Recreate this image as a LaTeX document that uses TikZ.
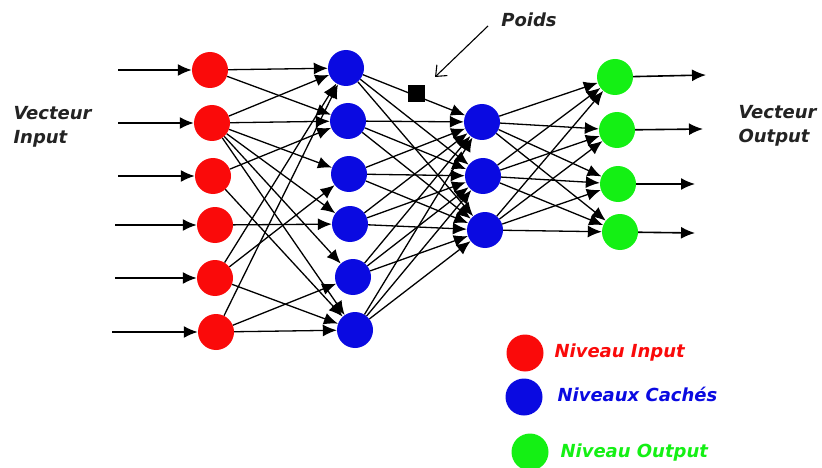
\documentclass[tikz,border=0pt]{standalone}
\usepackage{fontspec}
\setmainfont{DejaVu Sans}[BoldFont={DejaVu Sans Bold},
  ItalicFont={DejaVu Sans Oblique},BoldItalicFont={DejaVu Sans Bold Oblique}]
\usetikzlibrary{arrows.meta}
\definecolor{inred}{RGB}{250,10,10}
\definecolor{hidblue}{RGB}{10,10,225}
\definecolor{outgreen}{RGB}{20,240,20}
\definecolor{textgray}{RGB}{35,35,35}

\begin{document}
\begin{tikzpicture}[x=1pt,y=-1pt,
    neuron/.style={circle, fill=#1, minimum size=36pt, inner sep=0pt},
    link/.style={line width=1.3pt, -{Latex[length=14pt,width=12pt]}},
    lbl/.style={font=\bfseries\itshape\fontsize{18}{24}\selectfont, align=left, text=textgray},
    key/.style={font=\bfseries\itshape\fontsize{18}{20}\selectfont, text=#1, anchor=west}]
    \useasboundingbox (0,0) rectangle (822,468);

    % input layer
    \node[neuron=inred](i1) at (210,70){};
    \node[neuron=inred](i2) at (212,123){};
    \node[neuron=inred](i3) at (213,176){};
    \node[neuron=inred](i4) at (215,225){};
    \node[neuron=inred](i5) at (215,278){};
    \node[neuron=inred](i6) at (216,332){};
    % first hidden layer
    \node[neuron=hidblue](h1) at (346,68){};
    \node[neuron=hidblue](h2) at (348,121){};
    \node[neuron=hidblue](h3) at (349,174){};
    \node[neuron=hidblue](h4) at (350,224){};
    \node[neuron=hidblue](h5) at (353,277){};
    \node[neuron=hidblue](h6) at (355,330){};
    % second hidden layer
    \node[neuron=hidblue](g1) at (482,122){};
    \node[neuron=hidblue](g2) at (483,176){};
    \node[neuron=hidblue](g3) at (485,230){};
    % output layer
    \node[neuron=outgreen](o1) at (615,77){};
    \node[neuron=outgreen](o2) at (617,130){};
    \node[neuron=outgreen](o3) at (618,184){};
    \node[neuron=outgreen](o4) at (620,232){};

    % free ends of the input and output arrows
    \coordinate (x1) at (118,70);  \coordinate (y1) at (706,75);
    \coordinate (x2) at (118,123); \coordinate (y2) at (703,129);
    \coordinate (x3) at (118,176); \coordinate (y3) at (695,184);
    \coordinate (x4) at (115,225); \coordinate (y4) at (695,233);
    \coordinate (x5) at (115,278);
    \coordinate (x6) at (112,332);

    \foreach \k in {1,...,6} \draw[link, line width=1.6pt] (x\k) -- (i\k);
    \foreach \k in {1,...,4} \draw[link, line width=1.6pt] (o\k) -- (y\k);

    % input -> hidden, only some pairs are linked
    \foreach \a/\b in {1/1,1/2, 2/1,2/2,2/3,2/4,2/5,2/6, 3/2,3/6, 4/4,
                       5/1,5/3,5/6, 6/1,6/5,6/6}
      \draw[link] (i\a) -- (h\b);
    % hidden -> hidden and hidden -> output are full
    \foreach \a in {1,...,6} \foreach \b in {1,2,3}
      \draw[link] (h\a) -- (g\b);
    \foreach \a in {1,2,3} \foreach \b in {1,...,4}
      \draw[link] (g\a) -- (o\b);

    % weight marker
    \node[fill=black, minimum size=17pt, inner sep=0pt](w) at (416,94){};
    \coordinate (p0) at (488,26);
    \coordinate (p1) at (435,77);
    \draw[line width=1.1pt, -{Straight Barb[length=9pt,width=15pt]}] (p0) -- (p1);
    \node[lbl](poids) at (529,20){Poids};

    \node[lbl, anchor=west](vin) at (10,127){Vecteur\\Input};
    \node[lbl, anchor=west](vout) at (735,126){Vecteur\\Output};

    % legend
    \node[neuron=inred, minimum size=37pt](l1) at (525,353){};
    \node[neuron=hidblue, minimum size=37pt](l2) at (524,397){};
    \node[neuron=outgreen, minimum size=37pt](l3) at (530,452){};
    \node[key=inred](t1) at (551,353){Niveau Input};
    \node[key=hidblue](t2) at (554,394){Niveaux Cachés};
    \node[key=outgreen](t3) at (557,453){Niveau Output};
\end{tikzpicture}
\end{document}
